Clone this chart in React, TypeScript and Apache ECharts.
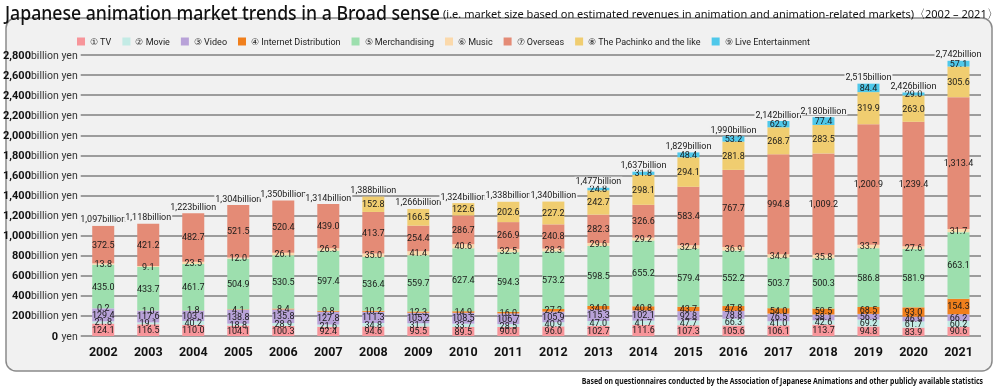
import { useEffect, useRef } from 'react';
import * as echarts from 'echarts';

const years = ['2002','2003','2004','2005','2006','2007','2008','2009','2010','2011','2012','2013','2014','2015','2016','2017','2018','2019','2020','2021'];
const tv = [124.1,116.5,110.0,104.1,100.3,92.4,94.6,95.5,89.5,90.0,96.0,102.7,111.6,107.3,105.6,106.1,113.7,94.8,83.9,90.6];
const movie = [21.8,19.1,40.2,18.8,28.9,21.6,34.8,31.1,33.7,28.5,40.9,47.0,41.7,47.7,66.3,41.0,42.6,69.2,61.7,60.2];
const video = [129.4,117.6,103.1,138.8,135.8,127.8,111.3,105.2,108.5,106.7,105.9,115.3,102.1,92.8,78.8,76.5,58.1,56.3,46.9,66.2];
const internet = [0.2,1.0,1.8,4.1,8.4,9.8,10.2,12.3,14.9,16.0,27.2,34.0,40.8,43.7,47.8,54.0,59.5,68.5,93.0,154.3];
const merch = [435.0,433.7,461.7,504.9,530.5,597.4,536.4,559.7,627.4,594.3,573.2,598.5,655.2,579.4,552.2,503.7,500.3,586.8,581.9,663.1];
const music = [13.8,9.1,23.5,12.0,26.1,26.3,35.0,41.4,40.6,32.5,28.3,29.6,29.2,32.4,36.9,34.4,35.8,33.7,27.6,31.7];
const overseas = [372.5,421.2,482.7,521.5,520.4,439.0,413.7,254.4,286.7,266.9,240.8,282.3,326.6,583.4,767.7,994.8,1009.2,1200.9,1239.4,1313.4];
const pachinko = [0,0,0,0,0,0,152.8,166.5,122.6,202.6,227.2,242.7,298.1,294.1,281.8,268.7,283.5,319.9,263.0,305.6];
const live = [0,0,0,0,0,0,0,0,0,0,0,24.8,31.8,48.4,53.2,62.9,77.4,84.4,29.0,57.1];
const totals = [1097,1118,1223,1304,1350,1314,1388,1266,1324,1338,1340,1477,1637,1829,1990,2142,2180,2515,2426,2742];

const seriesNames = ['① TV','② Movie','③ Video','④ Internet Distribution','⑤ Merchandising','⑥ Music','⑦ Overseas','⑧ The Pachinko and the like','⑨ Live Entertainment'];
const seriesData = [tv, movie, video, internet, merch, music, overseas, pachinko, live];
const seriesColors = ['#f7959a','#c3ebe5','#b8a2d8','#f07f1c','#9ddfae','#fbd9ab','#e48b76','#f0cd70','#4fc8ea'];

const titleText = 'Japanese animation market trends in a Broad sense';
const subtitleText = '(i.e. market size based on estimated revenues in animation and animation-related markets)〈2002 – 2021〉';
const noteText = 'Based on questionnaires conducted by the Association of Japanese Animations and other publicly available statistics';

const FONT = "Roboto, 'Noto Sans', sans-serif";
const TFONT = "'Noto Sans', sans-serif";
const PANEL = '#f1f1f1';

export default function App() {
  const ref = useRef<HTMLDivElement>(null);
  useEffect(() => {
    const chart = echarts.init(ref.current!, null, { renderer: 'svg' });
    const fmt = (v: number) => v.toLocaleString('en-US', { minimumFractionDigits: 1, maximumFractionDigits: 1 });
    const series: any[] = seriesNames.map((name, i) => ({
      name,
      type: 'bar',
      stack: 'total',
      barWidth: 22,
      data: seriesData[i],
      itemStyle: { color: seriesColors[i] },
      label: {
        show: true,
        position: 'inside',
        color: '#1a1a1a',
        fontSize: 9,
        fontFamily: FONT,
        formatter: (p: any) => (p.value ? fmt(p.value) : ''),
      },
    }));
    series.push({
      name: 'Total',
      type: 'bar',
      stack: 'total',
      barWidth: 22,
      data: totals.map(() => 0),
      itemStyle: { color: 'transparent' },
      label: {
        show: true,
        position: 'top',
        distance: 2,
        color: '#1a1a1a',
        fontSize: 9,
        fontFamily: FONT,
        backgroundColor: PANEL,
        padding: [0, 1],
        formatter: (p: any) => totals[p.dataIndex].toLocaleString('en-US') + 'billion',
      },
    });
    chart.setOption({
      animation: false,
      graphic: [
        {
          type: 'rect',
          z: -100,
          shape: { x: 6, y: 18, width: 986, height: 353, r: 10 },
          style: { fill: PANEL, stroke: '#8a8a8a', lineWidth: 1.5 },
        },
        {
          type: 'text',
          x: 5,
          y: 3,
          scaleX: 0.93,
          style: { text: titleText, fontSize: 19, fontWeight: 500, fontFamily: TFONT, fill: '#111', textVerticalAlign: 'top' },
        },
        {
          type: 'text',
          x: 443,
          y: 7,
          scaleX: 0.96,
          style: { text: subtitleText, fontSize: 11.5, fontFamily: TFONT, fill: '#111', textVerticalAlign: 'top' },
        },
        {
          type: 'text',
          x: 983,
          y: 376,
          scaleX: 0.77,
          style: { text: noteText, fontSize: 9, fontWeight: 'bold', fontFamily: TFONT, fill: '#111', textAlign: 'right', textVerticalAlign: 'top' },
        },
      ],
      legend: {
        data: seriesNames,
        left: 72,
        top: 32,
        icon: 'rect',
        itemWidth: 8,
        itemHeight: 8,
        itemGap: 11,
        textStyle: { fontSize: 9, fontFamily: FONT, color: '#222' },
      },
      grid: { left: 74, right: 19, top: 55, bottom: 53 },
      xAxis: {
        type: 'category',
        data: years,
        axisLine: { show: false },
        axisTick: { show: false },
        axisLabel: { fontSize: 12.5, fontWeight: 'bold', color: '#111', margin: 9, fontFamily: FONT },
      },
      yAxis: {
        type: 'value',
        min: 0,
        max: 2800,
        interval: 200,
        axisLine: { show: false },
        axisTick: { show: false },
        splitLine: { lineStyle: { color: '#7f7f7f', width: 1.5 } },
        axisLabel: {
          margin: 3,
          formatter: (v: number) => (v === 0 ? '{n|0} {u|yen}' : `{n|${v.toLocaleString('en-US')}}{u|billion yen}`),
          rich: {
            n: { fontWeight: 'bold', fontSize: 11, color: '#111', fontFamily: FONT },
            u: { fontSize: 10.5, color: '#333', fontFamily: FONT },
          },
        },
      },
      series,
    });
    return () => chart.dispose();
  }, []);
  return <div ref={ref} style={{ position: 'fixed', left: 0, top: 0, width: 1000, height: 389 }} />;
}
